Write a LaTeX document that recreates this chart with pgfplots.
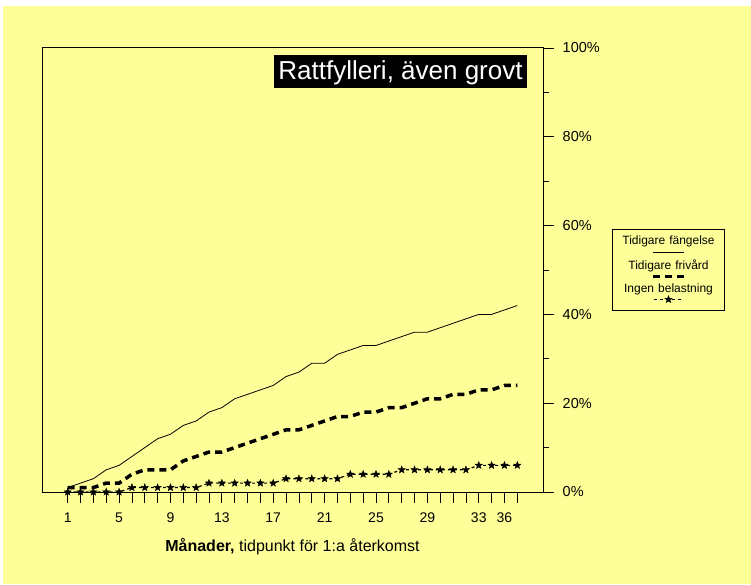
\documentclass[border=0pt]{standalone}
\usepackage{fontspec}
\setmainfont{Liberation Sans}
\usepackage{pgfplots}
\usepackage{pgfplotstable}
\pgfplotsset{compat=1.18}

\definecolor{bg}{HTML}{FFFF99}

% filled five-pointed star
\pgfdeclareplotmark{fstar}{%
  \pgfpathmoveto{\pgfpointpolar{90}{\pgfplotmarksize}}%
  \pgfpathlineto{\pgfpointpolar{126}{0.42\pgfplotmarksize}}%
  \pgfpathlineto{\pgfpointpolar{162}{\pgfplotmarksize}}%
  \pgfpathlineto{\pgfpointpolar{198}{0.42\pgfplotmarksize}}%
  \pgfpathlineto{\pgfpointpolar{234}{\pgfplotmarksize}}%
  \pgfpathlineto{\pgfpointpolar{270}{0.42\pgfplotmarksize}}%
  \pgfpathlineto{\pgfpointpolar{306}{\pgfplotmarksize}}%
  \pgfpathlineto{\pgfpointpolar{342}{0.42\pgfplotmarksize}}%
  \pgfpathlineto{\pgfpointpolar{18}{\pgfplotmarksize}}%
  \pgfpathlineto{\pgfpointpolar{54}{0.42\pgfplotmarksize}}%
  \pgfpathclose
  \pgfusepathqfillstroke}

% andel med återkomst (%) per månad
\pgfplotstableread{
m  fang friv ingen
1  1  1  0
2  2  1  0
3  3  1  0
4  5  2  0
5  6  2  0
6  8  4  1
7  10 5  1
8  12 5  1
9  13 5  1
10 15 7  1
11 16 8  1
12 18 9  2
13 19 9  2
14 21 10 2
15 22 11 2
16 23 12 2
17 24 13 2
18 26 14 3
19 27 14 3
20 29 15 3
21 29 16 3
22 31 17 3
23 32 17 4
24 33 18 4
25 33 18 4
26 34 19 4
27 35 19 5
28 36 20 5
29 36 21 5
30 37 21 5
31 38 22 5
32 39 22 5
33 40 23 6
34 40 23 6
35 41 24 6
36 42 24 6
}\data

\newcommand\smpA{\tikz[baseline={(0,-4.3pt)}]\draw[line width=0.8pt] (0,0)--(31pt,0);}
\newcommand\smpB{\tikz[baseline={(0,-4.3pt)}]\draw[line width=3.5pt,dash pattern=on 7pt off 5pt] (0,0)--(32pt,0);}
\newcommand\smpC{\tikz[baseline={(0,-4.3pt)}]{\draw[line width=1.2pt,dash pattern=on 3pt off 3pt] (0,0)--(30pt,0);
  \begin{scope}[shift={(15pt,0)}]\pgfsetlinewidth{0.4pt}\pgfsetplotmarksize{3.8pt}\pgfuseplotmark{fstar}\end{scope}}}

\begin{document}
\begin{tikzpicture}
\useasboundingbox (0,0) rectangle (751pt,584pt);
\fill[white] (0,0) rectangle (751pt,584pt);
\fill[bg] (3pt,0) rectangle (751pt,578pt);
\begin{axis}[
  at={(42pt,92pt)}, anchor=south west,
  width=501pt, height=444pt, scale only axis,
  axis line style={line width=1pt},
  xmin=-1, xmax=38, ymin=0, ymax=100,
  xtick={1,...,36},
  xticklabels={1,,,,5,,,,9,,,,13,,,,17,,,,21,,,,25,,,,29,,,,33,,36,},
  xtick pos=bottom, ytick pos=right,
  tick align=outside,
  ytick={0,20,...,100}, minor ytick={10,30,...,90},
  yticklabels={0\%,20\%,40\%,60\%,80\%,100\%},
  major tick length=10.5pt, minor tick length=5.7pt,
  every tick/.style={black,line width=0.8pt},
  /pgf/number format/assume math mode=true,
  xticklabel style={font=\fontsize{14}{16}\selectfont, anchor=north, inner sep=0pt, yshift=-10pt},
  yticklabel style={font=\fontsize{14.5}{16}\selectfont, anchor=west, inner sep=0pt, xshift=9pt},
  xlabel={\fontsize{16}{18}\selectfont\bfseries Månader,\ \mdseries tidpunkt för 1:a återkomst},
  xlabel style={at={(axis description cs:0.5,-0.1345)}, anchor=base, inner sep=0pt},
  legend image code/.code={},
  legend style={at={(axis description cs:1.2505,0.5)}, anchor=center,
    draw=black, line width=0.8pt, fill=bg,
    font=\fontsize{12}{11.5}\selectfont,
    inner xsep=3pt, inner ysep=6pt, row sep=1pt,
    nodes={text width=104pt, align=center, inner sep=1pt, text depth=}},
  clip=false,
]
\addplot[black, line width=0.8pt] table[x=m, y=fang] {\data};
\addlegendentry{Tidigare fängelse\\\smpA}
\addplot[black, line width=3.5pt, dash pattern=on 7pt off 5pt] table[x=m, y=friv] {\data};
\addlegendentry{Tidigare frivård\\\smpB}
\addplot[black, line width=1.2pt, dash pattern=on 3pt off 3pt,
  mark=fstar, mark size=3.8pt, mark options={solid, fill=black, line width=0.4pt}]
  table[x=m, y=ingen] {\data};
\addlegendentry{Ingen belastning\\\smpC}
\node[fill=black, text=white, font=\fontsize{26}{30}\selectfont,
  text height=25.3pt, text depth=7.7pt, inner ysep=0pt, minimum width=253pt, anchor=base]
  at (rel axis cs:0.7156,0.928) {Rattfylleri, även grovt};
\end{axis}
\end{tikzpicture}
\end{document}
